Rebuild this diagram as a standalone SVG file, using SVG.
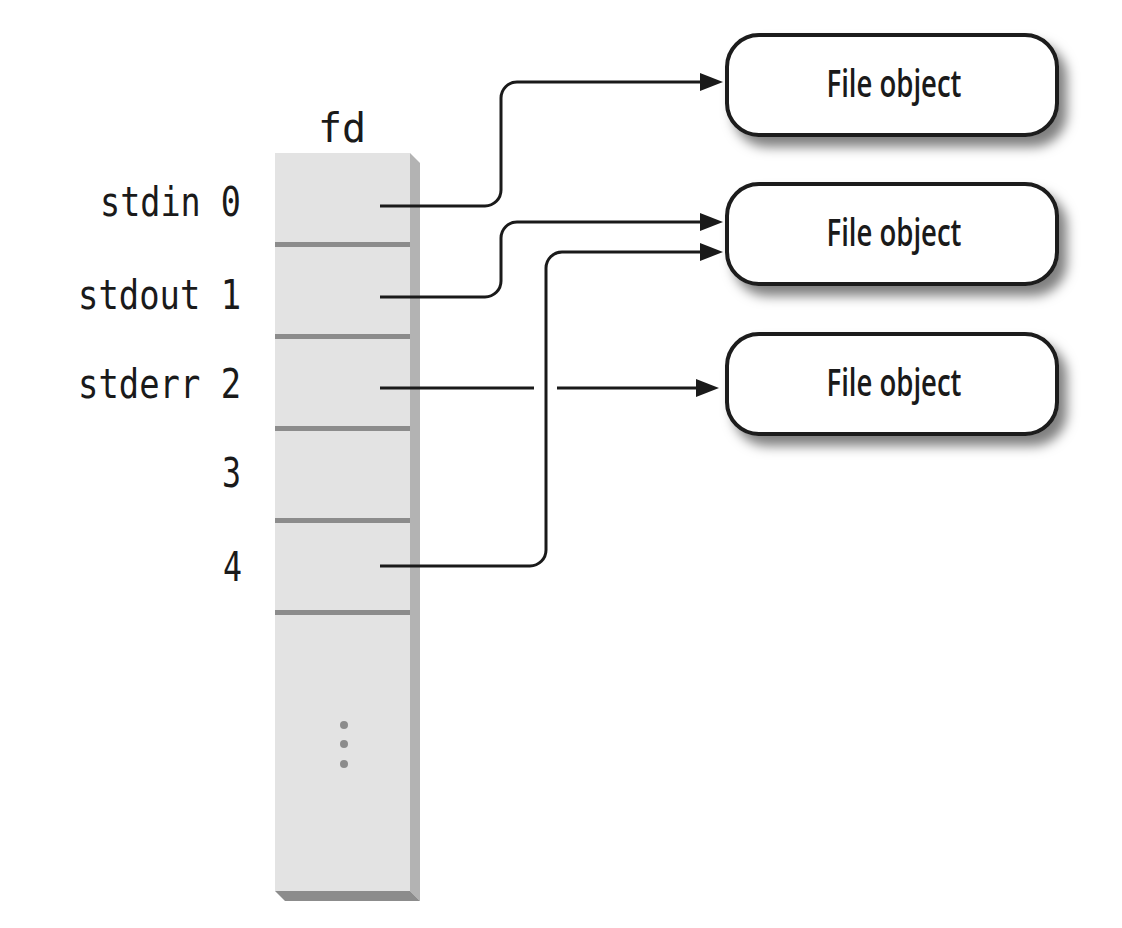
<svg xmlns="http://www.w3.org/2000/svg" width="1122" height="928" viewBox="0 0 1122 928">
  <style>
    .lbl { font-family: "DejaVu Sans Mono", "Liberation Mono", monospace; font-size: 40px; fill: #1a1a1a; text-anchor: end; }
    .fd { font-family: "DejaVu Sans Mono", "Liberation Mono", monospace; font-size: 40px; fill: #1a1a1a; text-anchor: middle; }
    .box { fill: #ffffff; stroke: #1a1a1a; stroke-width: 4; }
    .boxtxt { font-family: "Open Sans", "Liberation Sans", Arial, sans-serif; font-weight: 600; font-size: 37px; fill: #1a1a1a; text-anchor: middle; }
    .conn { fill: none; stroke: #1a1a1a; stroke-width: 3; }
    .sep { fill: #8c8c8c; }
    .dot { fill: #8c8c8c; }
  </style>
  <defs>
    <marker id="arrow" markerUnits="userSpaceOnUse" markerWidth="24" markerHeight="20" refX="0" refY="9" orient="auto" viewBox="0 0 24 20">
      <path d="M0,0 L23,9 L0,18 Z" fill="#1a1a1a"/>
    </marker>
    <filter id="shadow" x="-10%" y="-25%" width="135%" height="175%">
      <feDropShadow dx="8" dy="10" stdDeviation="6" flood-color="#000000" flood-opacity="0.5"/>
    </filter>
  </defs>
  <rect width="1122" height="928" fill="#ffffff"/>

  <g id="fd-table">
    <text class="fd" x="342" y="142">fd</text>
    <rect x="275" y="153" width="135" height="738" fill="#e3e3e3"/>
    <polygon points="410,153 420,163 420,901 410,891" fill="#b3b3b3"/>
    <polygon points="275,891 410,891 420,901 285,901" fill="#8c8c8c"/>
    <rect class="sep" x="275" y="242" width="135" height="5"/>
    <rect class="sep" x="275" y="334" width="135" height="5"/>
    <rect class="sep" x="275" y="426" width="135" height="5"/>
    <rect class="sep" x="275" y="518" width="135" height="5"/>
    <rect class="sep" x="275" y="610" width="135" height="5"/>
    <circle class="dot" cx="344" cy="725" r="4"/>
    <circle class="dot" cx="344" cy="744" r="4"/>
    <circle class="dot" cx="344" cy="764" r="4"/>
  </g>

  <g id="labels">
    <text class="lbl" x="241" y="216" textLength="141" lengthAdjust="spacingAndGlyphs">stdin 0</text>
    <text class="lbl" x="241" y="309" textLength="163" lengthAdjust="spacingAndGlyphs">stdout 1</text>
    <text class="lbl" x="241" y="398" textLength="163" lengthAdjust="spacingAndGlyphs">stderr 2</text>
    <text class="lbl" x="241" y="487" textLength="19" lengthAdjust="spacingAndGlyphs">3</text>
    <text class="lbl" x="242" y="581" textLength="19" lengthAdjust="spacingAndGlyphs">4</text>
  </g>

  <g id="file-object-1" filter="url(#shadow)">
    <rect class="box" x="727" y="35" width="330" height="100" rx="32" ry="32"/>
  </g>
  <text class="boxtxt" x="894" y="97" textLength="135" lengthAdjust="spacingAndGlyphs">File object</text>

  <g id="file-object-2" filter="url(#shadow)">
    <rect class="box" x="727" y="184" width="330" height="100" rx="32" ry="32"/>
  </g>
  <text class="boxtxt" x="894" y="246" textLength="135" lengthAdjust="spacingAndGlyphs">File object</text>

  <g id="file-object-3" filter="url(#shadow)">
    <rect class="box" x="727" y="334" width="330" height="100" rx="32" ry="32"/>
  </g>
  <text class="boxtxt" x="894" y="396" textLength="135" lengthAdjust="spacingAndGlyphs">File object</text>

  <g id="connectors">
    <path class="conn" d="M380,206 H485 A16,16 0 0 0 501,190 V98 A16,16 0 0 1 517,82 H700" marker-end="url(#arrow)"/>
    <path class="conn" d="M380,297 H485 A16,16 0 0 0 501,281 V238 A16,16 0 0 1 517,222 H700" marker-end="url(#arrow)"/>
    <path class="conn" d="M380,566 H530 A16,16 0 0 0 546,550 V268 A16,16 0 0 1 562,252 H700" marker-end="url(#arrow)"/>
    <path class="conn" d="M380,388 H534"/>
    <path class="conn" d="M557,388 H696" marker-end="url(#arrow)"/>
  </g>
</svg>
